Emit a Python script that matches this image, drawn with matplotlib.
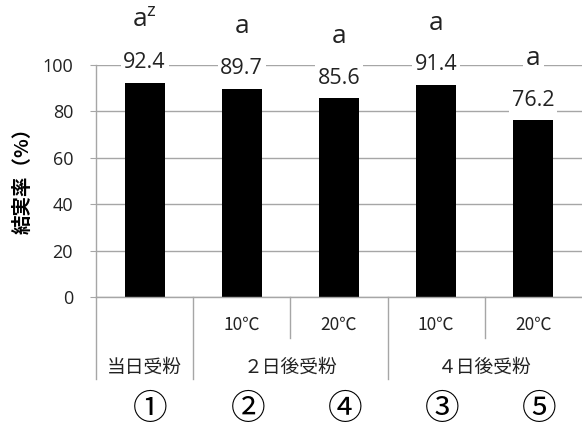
import matplotlib
matplotlib.use("Agg")
import matplotlib.pyplot as plt
import matplotlib.transforms as mtransforms

# data
treatments = ["当日受粉", "2日後10℃", "2日後20℃", "4日後10℃", "4日後20℃"]
fruit_set = [92.4, 89.7, 85.6, 91.4, 76.2]
letters = ["a$^\\mathrm{z}$", "a", "a", "a", "a"]
temp_labels = ["", "10℃", "20℃", "10℃", "20℃"]
group_labels = ["当日受粉", "２日後受粉", "４日後受粉"]
group_centers = [0, 1.5, 3.5]
circled = ["①", "②", "④", "③", "⑤"]
y_ticks = [0, 20, 40, 60, 80, 100]

plt.rcParams["font.family"] = ["Open Sans", "Noto Sans CJK JP", "DejaVu Sans"]
plt.rcParams["mathtext.fontset"] = "custom"
plt.rcParams["mathtext.rm"] = "Open Sans"
plt.rcParams["mathtext.it"] = "Open Sans:italic"

grey = "#a6a6a6"
W, H = 582, 430
fig = plt.figure(figsize=(W / 100, H / 100), dpi=100)
ax = fig.add_axes([96 / W, (H - 297) / H, 486 / W, 232 / H])

x = list(range(len(fruit_set)))
ax.bar(x, fruit_set, width=0.41, color="black", zorder=2)
ax.set_xlim(-0.5, 4.5)
ax.set_ylim(0, 100)
ax.set_yticks(y_ticks)
ax.set_xticks([])
ax.grid(axis="y", color=grey, linewidth=1, zorder=0)
ax.tick_params(axis="y", length=4.5, color=grey, pad=12, labelsize=13, labelcolor="#222222")
for s in ["top", "right"]:
    ax.spines[s].set_visible(False)
for s in ["left", "bottom"]:
    ax.spines[s].set_color(grey)
    ax.spines[s].set_linewidth(1)

box = dict(facecolor="white", edgecolor="none", pad=2)
for xi, v, lt in zip(x, fruit_set, letters):
    ax.annotate(f"{v:.1f}", (xi, v), xytext=(0, 14.4), textcoords="offset points",
                ha="center", va="center", fontsize=15.5, color="#222222",
                bbox=box, zorder=3)
    ax.annotate(lt, (xi, v), xytext=(0, 44.6), textcoords="offset points",
                ha="center", va="center", fontsize=19, color="#222222",
                bbox=box, zorder=3, annotation_clip=False)

# category table below the axis
trans = mtransforms.blended_transform_factory(ax.transData, ax.transAxes)
full = -82 / 232
half = -41 / 232
for b in [-0.5, 0.5, 2.5]:
    ax.plot([b, b], [0, full], color=grey, lw=1, transform=trans, clip_on=False)
for b in [1.5, 3.5]:
    ax.plot([b, b], [0, half], color=grey, lw=1, transform=trans, clip_on=False)

jp = ["Noto Sans CJK JP", "DejaVu Sans"]
for xi, t in zip(x, temp_labels):
    ax.text(xi, -28 / 232, t, transform=trans, ha="center", va="center",
            fontsize=12.5, family=jp, color="#222222")
for c, g in zip(group_centers, group_labels):
    ax.text(c, -70 / 232, g, transform=trans, ha="center", va="center",
            fontsize=13.5, family=jp, color="#222222")
shift = trans + mtransforms.ScaledTranslation(6 / 100, 0, fig.dpi_scale_trans)
for xi, c in zip(x, circled):
    ax.text(xi, -113 / 232, c, transform=shift, ha="center", va="center",
            fontsize=25, family=jp, color="black")

ax.set_ylabel("結実率（%）", fontsize=14, fontweight="bold", family=jp)
ax.yaxis.set_label_coords(-0.13, 0.52)

fig.savefig("out.png", dpi=100)
